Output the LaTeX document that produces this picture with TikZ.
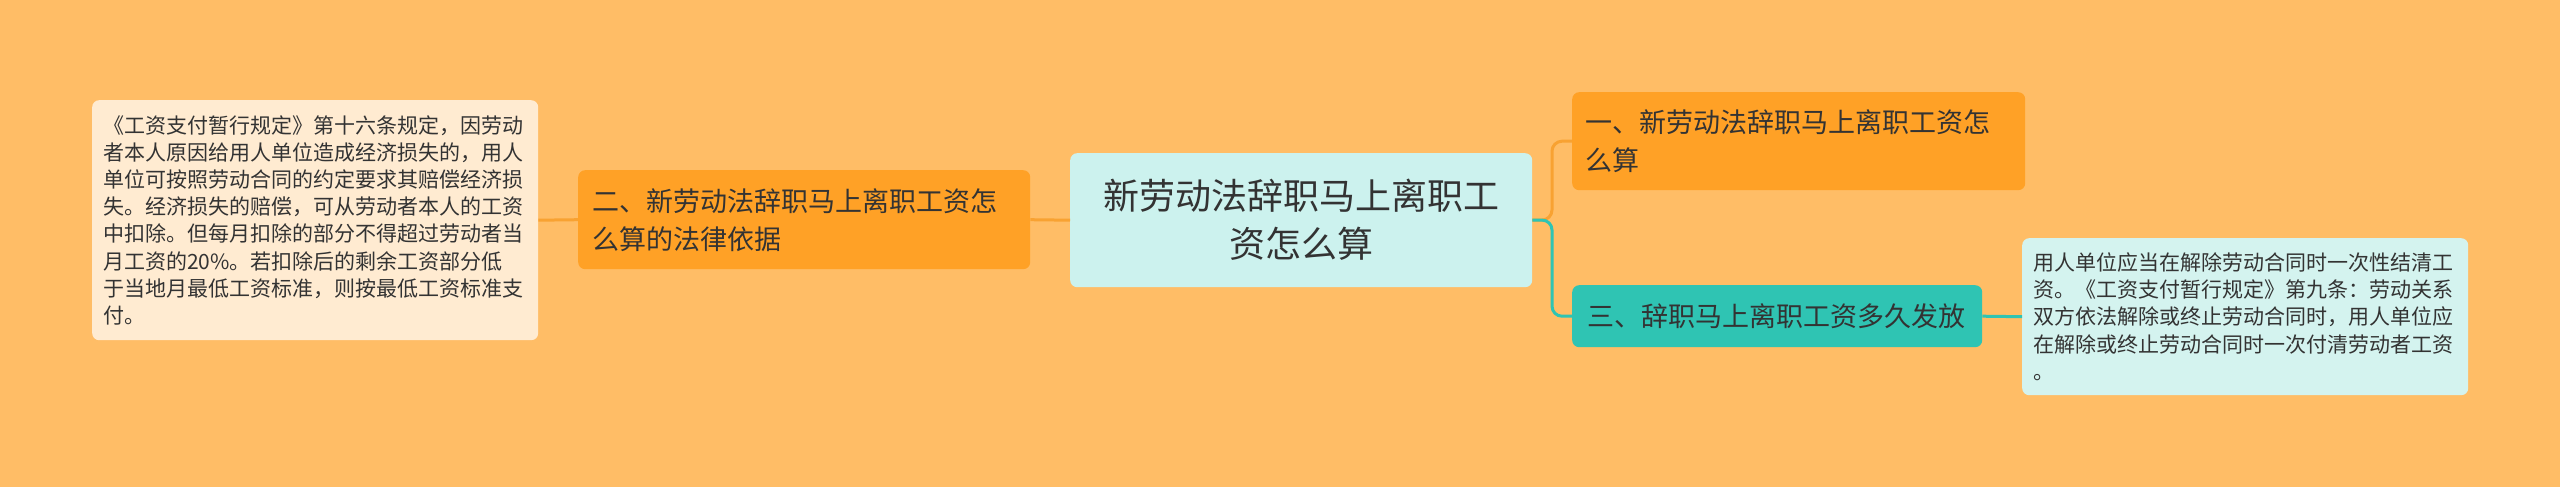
\documentclass[tikz,border=0pt]{standalone}
\usepackage{fontspec}
\setmainfont{Noto Sans CJK SC}
\definecolor{bg}{HTML}{FFBD66}
\definecolor{cream}{HTML}{FFEBD1}
\definecolor{orng}{HTML}{FFA126}
\definecolor{oline}{HTML}{F8A232}
\definecolor{rootc}{HTML}{CCF2EE}
\definecolor{teal}{HTML}{2FC4B3}
\definecolor{leafc}{HTML}{D4F3EF}
\definecolor{txt}{HTML}{333333}
\tikzset{
  box/.style={rounded corners=7pt, anchor=north west, inner ysep=0pt, text=txt},
  leafbox/.style={box, align=left, inner xsep=11pt, text width=424pt, minimum width=446pt, font=\fontsize{21}{27.2}\selectfont},
  branchbox/.style={box, fill=orng, align=left, font=\fontsize{27}{38}\selectfont},
  olink/.style={draw=oline, line width=3pt},
  tlink/.style={draw=teal, line width=3pt},
}
\begin{document}
\begin{tikzpicture}[x=1pt,y=-1pt]
\fill[bg] (0,0) rectangle (2560,487);
\useasboundingbox (0,0) rectangle (2560,487);

\node[leafbox, fill=cream, minimum height=240pt] (l1) at (92,100)
{《工资支付暂行规定》第十六条规定，因劳动\\
者本人原因给用人单位造成经济损失的，用人\\
单位可按照劳动合同的约定要求其赔偿经济损\\
失。经济损失的赔偿，可从劳动者本人的工资\\
中扣除。但每月扣除的部分不得超过劳动者当\\
月工资的20\%。若扣除后的剩余工资部分低\\
于当地月最低工资标准，则按最低工资标准支\\
付。};

\node[branchbox, inner xsep=14pt, text width=424pt, minimum width=452pt, minimum height=99pt] (n2) at (578,170)
{二、新劳动法辞职马上离职工资怎\\么算的法律依据};

\node[box, fill=rootc, align=center, inner xsep=16pt, text width=430pt, minimum width=462pt, minimum height=134pt, font=\fontsize{36}{48}\selectfont] (root) at (1070,153)
{新劳动法辞职马上离职工\\资怎么算};

\node[branchbox, inner xsep=13pt, text width=427pt, minimum width=453pt, minimum height=98pt] (n1) at (1572,92)
{一、新劳动法辞职马上离职工资怎\\么算};

\node[branchbox, fill=teal, inner xsep=15pt, text width=380pt, minimum width=410pt, minimum height=62pt] (n3) at (1572,285)
{三、辞职马上离职工资多久发放};

\node[leafbox, fill=leafc, minimum height=157pt] (l2) at (2022,238)
{用人单位应当在解除劳动合同时一次性结清工\\
资。《工资支付暂行规定》第九条：劳动关系\\
双方依法解除或终止劳动合同时，用人单位应\\
在解除或终止劳动合同时一次付清劳动者工资\\
。};

\coordinate (j) at (1552,220);
\draw[olink] (l1.east) -- (n2.west);
\draw[olink] (n2.east) -- (root.west);
\draw[olink, rounded corners=10pt] (root.east) -- (j) |- (n1.west);
\draw[tlink, rounded corners=10pt] (root.east) -- (j) |- (n3.west);
\draw[tlink] (n3.east) -- (l2.west);
\end{tikzpicture}
\end{document}
